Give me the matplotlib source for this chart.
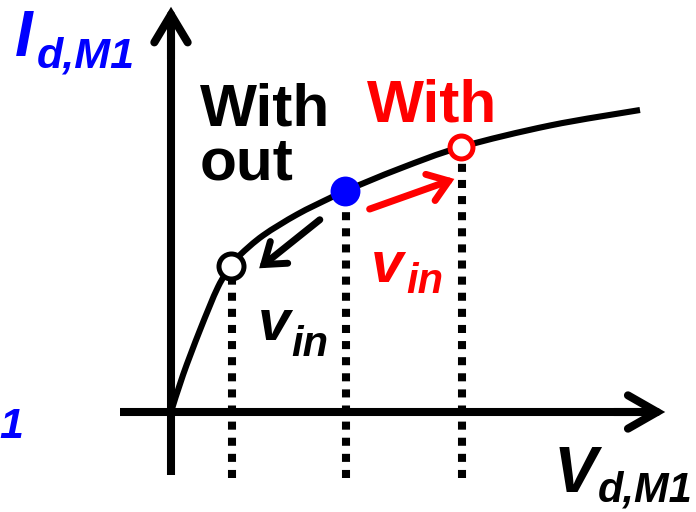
import matplotlib
matplotlib.use("Agg")
import matplotlib.pyplot as plt
import numpy as np
from matplotlib.patches import FancyArrowPatch, PathPatch
from matplotlib.path import Path

# ---- data (diagram units: origin at axes crossing) ----
curve_vd = [0, 12, 29, 47, 60, 69, 92, 126, 159, 174, 229, 290, 379, 469]
curve_id = [0, 37, 82, 125, 146, 157, 176.5, 197.5, 214, 221, 243.5, 265, 286.5, 302]

q_without = (60, 146)   # operating point without
q_bias = (174, 221)     # bias point
q_with = (290, 265)     # operating point with

plt.rcParams['font.family'] = ['Liberation Sans', 'DejaVu Sans']

fig = plt.figure(figsize=(6.96, 5.12), dpi=100)
ax = fig.add_axes([0, 0, 1, 1])
ax.set_xlim(-171, 525)
ax.set_ylim(-100, 412)
ax.axis('off')

LW_AX = 5.8


def arrow(p0, p1, color, lw, hl, hw, z=3):
    a = FancyArrowPatch(p0, p1, arrowstyle=f'->,head_length={hl},head_width={hw}',
                        mutation_scale=1, color=color, lw=lw, zorder=z,
                        capstyle='round', joinstyle='miter')
    ax.add_patch(a)


# axes with arrowheads
ax.plot([-51, 480], [0, 0], color='black', lw=LW_AX, solid_capstyle='butt', zorder=2)
arrow((440, 0), (497, 0), 'black', LW_AX, 21, 12)
ax.plot([0, 0], [-63, 380], color='black', lw=LW_AX, solid_capstyle='butt', zorder=2)
arrow((0, 350), (0, 408), 'black', LW_AX, 20, 12)

# smooth curve through the read points (Catmull-Rom drawn as cubic Bezier path)
P = np.column_stack([curve_vd, curve_id]).astype(float)
verts = [P[0]]
codes = [Path.MOVETO]
n = len(P)
for i in range(n - 1):
    p0 = P[max(i - 1, 0)]
    p1 = P[i]
    p2 = P[i + 1]
    p3 = P[min(i + 2, n - 1)]
    c1 = p1 + (p2 - p0) / 6.0
    c2 = p2 - (p3 - p1) / 6.0
    verts += [c1, c2, p2]
    codes += [Path.CURVE4] * 3
ax.add_patch(PathPatch(Path(verts, codes), facecolor='none', edgecolor='black',
                       lw=4.4, capstyle='butt', joinstyle='round', zorder=4))

# dotted projections
for q in (q_without, q_bias, q_with):
    ax.plot([q[0] + 1, q[0] + 1], [-66, q[1]], color='black', lw=5.8,
            linestyle=(0, (1, 1)), dash_capstyle='butt', zorder=1)

# markers
ax.plot(*q_without, marker='o', ms=18, mfc='white', mec='black', mew=3.6, zorder=6)
ax.plot(*q_with, marker='o', ms=16.5, mfc='white', mec='red', mew=3.6, zorder=6)
ax.plot(*q_bias, marker='o', ms=21.5, mfc='blue', mec='blue', mew=0, zorder=6)

# v_in arrows
arrow((151, 194), (86, 142), 'black', 5.0, 14, 10, z=5)
arrow((196, 202), (286, 234), 'red', 5.0, 14, 10, z=5)

# texts
bo = dict(fontweight='bold')
bi = dict(fontweight='bold', fontstyle='italic')
ax.text(29, 287, 'With', color='black', fontsize=43.5, ha='left', va='baseline', **bo)
ax.text(29, 232, 'out', color='black', fontsize=43.5, ha='left', va='baseline', **bo)
ax.text(196, 290, 'With', color='red', fontsize=43.5, ha='left', va='baseline', **bo)

ax.text(87, 72, 'v', color='black', fontsize=42, ha='left', va='baseline', **bi)
ax.text(120, 56, 'in', color='black', fontsize=30, ha='left', va='baseline', **bi)
ax.text(200, 130, 'v', color='red', fontsize=42, ha='left', va='baseline', **bi)
ax.text(235, 119, 'in', color='red', fontsize=30, ha='left', va='baseline', **bi)

ax.text(383, -80, 'V', color='black', fontsize=47, ha='left', va='baseline', **bi)
ax.text(427, -90, 'd,M1', color='black', fontsize=30, ha='left', va='baseline', **bi)

ax.text(-156, 356, 'I', color='blue', fontsize=46, ha='left', va='baseline', **bi)
ax.text(-134, 344, 'd,M1', color='blue', fontsize=31, ha='left', va='baseline', **bi)

ax.text(-172, -26, '1', color='blue', fontsize=31, ha='left', va='baseline', **bi)

fig.savefig('out.png', dpi=100)
